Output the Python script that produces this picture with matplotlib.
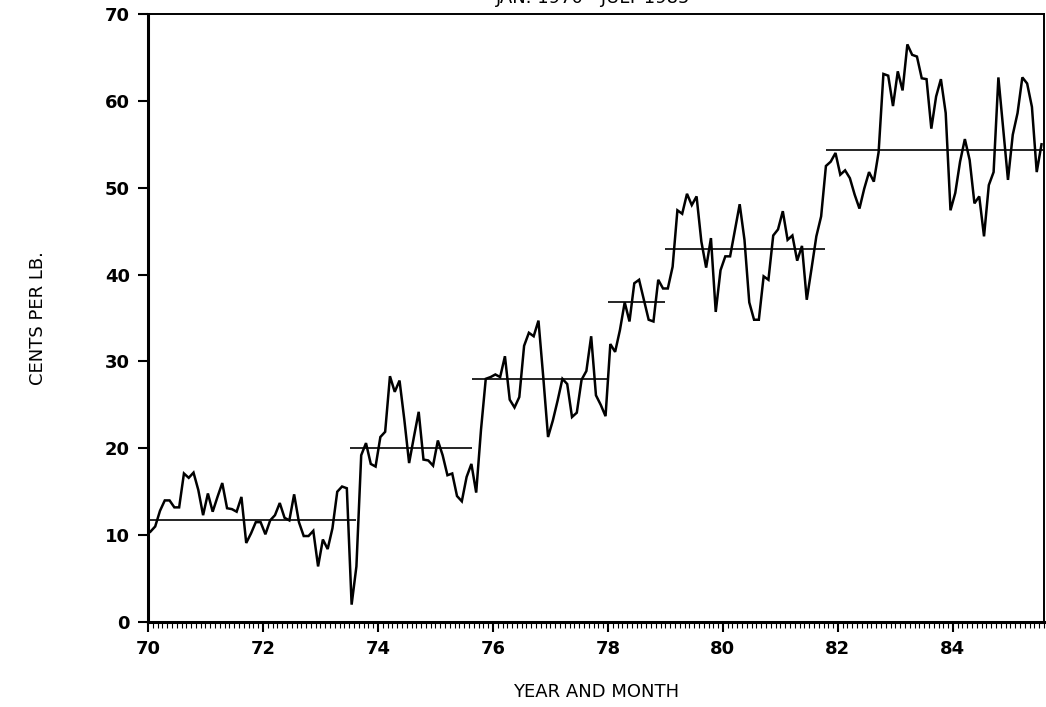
import numpy as np
import matplotlib.pyplot as plt

# monthly prices, cents per lb, Jan 1970 - Jul 1985
y1970 = [10.4, 11.0, 12.8, 14.0, 14.0, 13.2, 13.2, 17.1, 16.6, 17.2, 15.2, 12.3]
y1971 = [14.8, 12.7, 14.4, 16.0, 13.1, 13.0, 12.7, 14.4, 9.1, 10.2, 11.5, 11.5]
y1972 = [10.1, 11.7, 12.3, 13.7, 12.0, 11.7, 14.7, 11.5, 9.9, 9.9, 10.5, 6.4]
y1973 = [9.5, 8.4, 10.8, 15.0, 15.6, 15.4, 2.0, 6.4, 19.2, 20.6, 18.2, 17.9]
y1974 = [21.3, 21.9, 28.3, 26.5, 27.8, 23.3, 18.3, 21.3, 24.2, 18.7, 18.6, 18.0]
y1975 = [20.9, 19.2, 16.9, 17.1, 14.5, 13.9, 16.7, 18.2, 14.9, 22.1, 28.0, 28.2]
y1976 = [28.5, 28.2, 30.6, 25.6, 24.7, 25.9, 31.8, 33.3, 32.9, 34.7, 28.2, 21.3]
y1977 = [23.2, 25.5, 28.0, 27.4, 23.6, 24.1, 27.9, 28.9, 32.9, 26.1, 25.0, 23.7]
y1978 = [32.0, 31.1, 33.6, 36.8, 34.6, 39.0, 39.4, 37.1, 34.8, 34.6, 39.4, 38.4]
y1979 = [38.4, 40.9, 47.4, 47.0, 49.3, 48.0, 49.0, 43.8, 40.8, 44.2, 35.7, 40.5]
y1980 = [42.1, 42.1, 45.1, 48.1, 44.0, 36.8, 34.8, 34.8, 39.8, 39.4, 44.5, 45.2]
y1981 = [47.3, 44.0, 44.5, 41.6, 43.3, 37.1, 40.7, 44.4, 46.7, 52.5, 53.0, 54.0]
y1982 = [51.5, 52.0, 51.1, 49.2, 47.6, 49.9, 51.8, 50.7, 54.1, 63.1, 62.9, 59.4]
y1983 = [63.4, 61.2, 66.5, 65.3, 65.1, 62.6, 62.5, 56.8, 60.5, 62.5, 58.6, 47.4]
y1984 = [49.4, 53.0, 55.6, 53.2, 48.2, 49.0, 44.4, 50.3, 51.8, 62.7, 56.8, 50.9]
y1985 = [56.1, 58.6, 62.7, 62.0, 59.3, 51.8, 55.0]

# period averages: start, end, mean
seg_start = [70.0, 73.52, 75.63, 78.0, 79.0, 81.80]
seg_end = [73.62, 75.64, 77.98, 78.99, 81.77, 85.58]
seg_mean = [11.8, 20.0, 28.0, 36.8, 42.9, 54.3]

prices = np.array(y1970 + y1971 + y1972 + y1973 + y1974 + y1975 + y1976 + y1977
                  + y1978 + y1979 + y1980 + y1981 + y1982 + y1983 + y1984 + y1985)
t = 70 + (np.arange(len(prices)) + 0.5) / 12

plt.rcParams['font.family'] = ['DejaVu Sans']
fig = plt.figure(figsize=(10.46, 7.07), dpi=100)
ax = fig.add_axes([0.1415, 0.1202, 0.8565, 0.860])

ax.plot(t, prices, color='black', lw=1.8, solid_joinstyle='miter')
ax.hlines(seg_mean, seg_start, seg_end, color='black', lw=1.2)

ax.set_xlim(70, 85 + 7 / 12)
ax.set_ylim(0, 70)
ax.set_xticks(np.arange(70, 85, 2))
ax.set_xticks(np.arange(70, 85.6, 1 / 12), minor=True)
ax.set_yticks(np.arange(0, 71, 10))
ax.tick_params(axis='both', which='major', direction='out', length=7, width=1.5,
               labelsize=13, pad=6)
ax.tick_params(axis='x', which='minor', direction='out', length=4, width=0.8)
for lab in ax.get_xticklabels() + ax.get_yticklabels():
    lab.set_fontweight('bold')

for side in ['left', 'bottom']:
    ax.spines[side].set_linewidth(2.2)
for side in ['top', 'right']:
    ax.spines[side].set_linewidth(1.4)

ax.set_xlabel('YEAR AND MONTH', fontsize=13, labelpad=18)
ax.set_ylabel('CENTS PER LB.', fontsize=13, labelpad=42)

# title mostly cut off at the top of the page, as in the scan
fig.text(0.567, 1 - 3 / 707, 'JAN. 1970 - JULY 1985', ha='center', va='baseline',
         fontsize=13)

fig.savefig('out.png', dpi=100)
